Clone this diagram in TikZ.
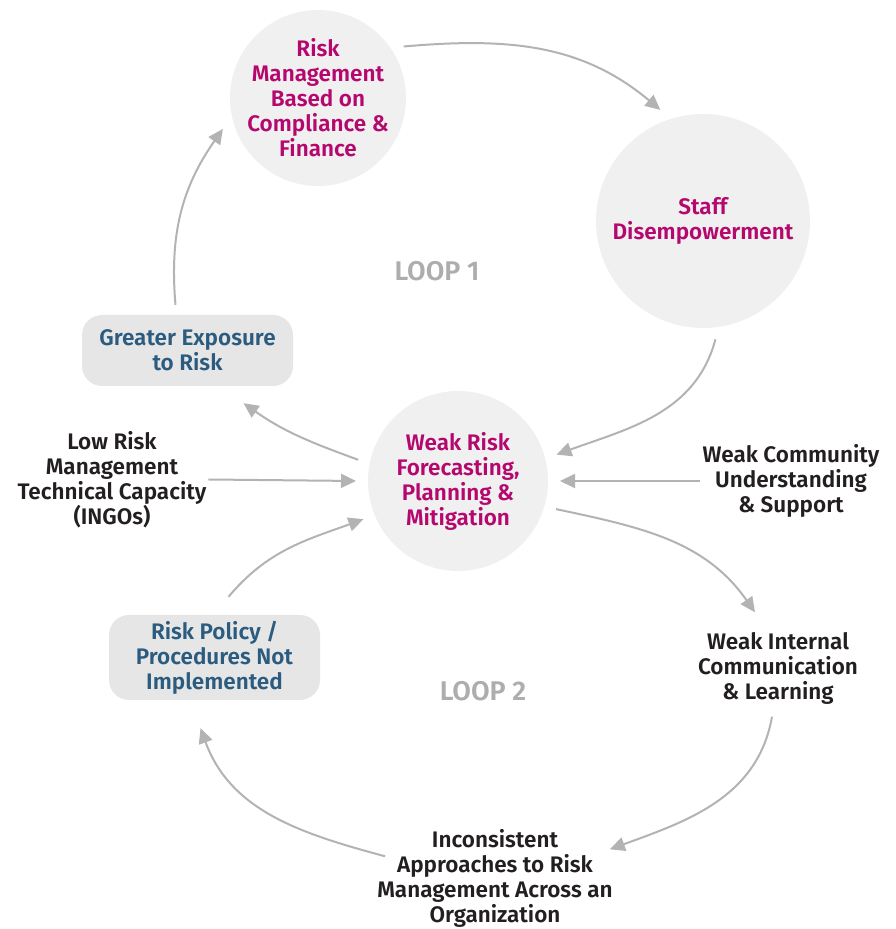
\documentclass[tikz,border=0pt]{standalone}
\usepackage{fontspec}
\setmainfont{Fira Sans}[BoldFont={Fira Sans SemiBold}]
\usepackage{xcolor}
\usetikzlibrary{arrows.meta}
\definecolor{causered}{HTML}{B5086F}
\definecolor{effectblue}{HTML}{2B5B7E}
\definecolor{textdark}{HTML}{231F20}
\definecolor{bubblegray}{HTML}{F0F0F0}
\definecolor{boxgray}{HTML}{E6E6E6}
\definecolor{arrowgray}{HTML}{B3B3B3}
\definecolor{loopgray}{HTML}{ADADAD}

\begin{document}
\begin{tikzpicture}
  [x=1pt,y=1pt,
   every node/.style={font=\bfseries\fontsize{22.5}{25}\selectfont,align=center,inner sep=2pt},
   bubble/.style={circle,fill=bubblegray,text=causered,inner sep=0pt,outer sep=12pt},
   box/.style={rounded corners=20pt,fill=boxgray,text=effectblue,minimum width=211pt},
   plain/.style={text=textdark},
   looplabel/.style={text=loopgray,font=\bfseries\fontsize{27}{30}\selectfont},
   link/.style={draw=arrowgray,line width=2pt,-{Triangle[length=15pt,width=14pt]}}]
  \useasboundingbox (0,0) rectangle (896,929);

  \node[bubble,minimum size=176pt,inner sep=-7pt] (rmc) at (318,831)
    {Risk\\Management\\Based on\\Compliance \&\\Finance};
  \node[bubble,minimum size=214pt] (staff) at (703,708) {Staff\\Disempowerment};
  \node[bubble,minimum size=180pt] (weak) at (458,448)
    {Weak Risk\\Forecasting,\\Planning \&\\Mitigation};

  \node[box,minimum height=71pt] (expo) at (187.5,578.5) {Greater Exposure\\to Risk};
  \node[box,minimum height=85pt] (policy) at (214.5,271.5)
    {Risk Policy /\\Procedures Not\\Implemented};

  \node[plain] (lowcap) at (112,449.5) {Low Risk\\Management\\Technical Capacity\\(INGOs)};
  \node[plain] (community) at (791,448) {Weak Community\\Understanding\\\& Support};
  \node[plain] (internal) at (778,260.5) {Weak Internal\\Communication\\\& Learning};
  \node[plain] (incons) at (495,50.5)
    {Inconsistent\\Approaches to Risk\\Management Across an\\Organization};

  \node[looplabel] (loopA) at (437,658) {LOOP 1};
  \node[looplabel] (loopB) at (483,238) {LOOP 2};

  % loop 1
  \draw[link] (rmc.31) to[out=5,in=140] (staff.111);
  \draw[link] (staff.-84) to[out=-105,in=20] (weak.15);
  \draw[link] (weak.168) to[out=160,in=-35] ([shift={(56,-17)}]expo.south);
  \draw[link] ([shift={(-12,10)}]expo.north) to[out=95,in=235] (rmc.198);

  % outside causes
  \foreach \from/\to in {community.west/weak.east,lowcap.east/weak.west}
    \draw[link] (\from) -- (\to);

  % loop 2
  \draw[link] (weak.-16) to[out=-12,in=125] ([shift={(-23,18)}]internal.north);
  \draw[link] ([shift={(-6,-10)}]internal.south) to[out=-100,in=20] ([shift={(-5,-22)}]incons.north east);
  \draw[link] ([shift={(10,-29)}]incons.north west) to[out=165,in=-70] ([shift={(-14,-28)}]policy.south);
  \draw[link] ([shift={(14,18)}]policy.north) to[out=50,in=200] (weak.202);
\end{tikzpicture}
\end{document}
